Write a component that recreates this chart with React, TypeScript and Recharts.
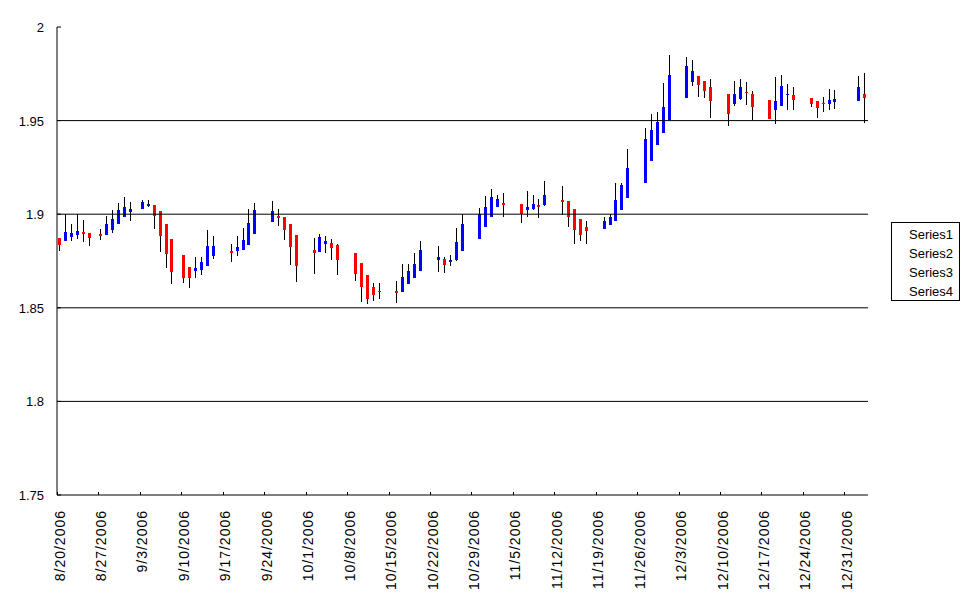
import { Bar, Cell, ComposedChart, ReferenceLine, XAxis, YAxis } from "recharts";

/* Excel-style high-low-open-close chart, Aug 2006 – Jan 2007.
   Thin black line = high/low, narrow body = open/close (blue up, red down). */

const BLUE = "#0000ff";
const RED = "#ff0000";
const FONT = "'Liberation Sans', Arial, sans-serif";

const W = 971;
const H = 605;
const PLOT_LEFT = 57;
const PLOT_RIGHT = 868;

const START_UTC = Date.UTC(2006, 7, 20);
const DAY_COUNT = 137;

const SERIES = ["Series1", "Series2", "Series3", "Series4"];
const Y_TICKS = [1.75, 1.8, 1.85, 1.9, 1.95, 2];
const GRID_VALUES = [1.8, 1.85, 1.9, 1.95];

const TRADE_DATES = [
  "8/20/2006", "8/21/2006", "8/22/2006", "8/23/2006", "8/24/2006", "8/25/2006",
  "8/27/2006", "8/28/2006", "8/29/2006", "8/30/2006", "8/31/2006", "9/1/2006",
  "9/3/2006", "9/4/2006", "9/5/2006", "9/6/2006", "9/7/2006", "9/8/2006",
  "9/10/2006", "9/11/2006", "9/12/2006", "9/13/2006", "9/14/2006", "9/15/2006",
  "9/18/2006", "9/19/2006", "9/20/2006", "9/21/2006", "9/22/2006",
  "9/25/2006", "9/26/2006", "9/27/2006", "9/28/2006", "9/29/2006",
  "10/2/2006", "10/3/2006", "10/4/2006", "10/5/2006", "10/6/2006",
  "10/9/2006", "10/10/2006", "10/11/2006", "10/12/2006", "10/13/2006",
  "10/16/2006", "10/17/2006", "10/18/2006", "10/19/2006", "10/20/2006",
  "10/23/2006", "10/24/2006", "10/25/2006", "10/26/2006", "10/27/2006",
  "10/30/2006", "10/31/2006", "11/1/2006", "11/2/2006", "11/3/2006",
  "11/6/2006", "11/7/2006", "11/8/2006", "11/9/2006", "11/10/2006",
  "11/13/2006", "11/14/2006", "11/15/2006", "11/16/2006", "11/17/2006",
  "11/20/2006", "11/21/2006", "11/22/2006", "11/23/2006", "11/24/2006",
  "11/27/2006", "11/28/2006", "11/29/2006", "11/30/2006", "12/1/2006",
  "12/4/2006", "12/5/2006", "12/6/2006", "12/7/2006", "12/8/2006",
  "12/11/2006", "12/12/2006", "12/13/2006", "12/14/2006", "12/15/2006",
  "12/18/2006", "12/19/2006", "12/20/2006", "12/21/2006", "12/22/2006",
  "12/25/2006", "12/26/2006", "12/27/2006", "12/28/2006", "12/29/2006",
  "1/2/2007", "1/3/2007",
];

const OPEN = [
  1.8875, 1.8858, 1.8881, 1.889, 1.8906, 1.89,
  1.8895, 1.889, 1.8916, 1.8948, 1.8986, 1.9014,
  1.9025, 1.9045, 1.9048, 1.9018, 1.8947, 1.8868,
  1.8783, 1.8719, 1.8694, 1.8704, 1.8726, 1.8779,
  1.8806, 1.8801, 1.8811, 1.8838, 1.8897,
  1.8961, 1.8991, 1.8986, 1.8948, 1.889,
  1.8809, 1.8801, 1.8843, 1.8847, 1.8836,
  1.8793, 1.874, 1.8676, 1.8612, 1.8591,
  1.8592, 1.8587, 1.863, 1.8662, 1.8699,
  1.8756, 1.8761, 1.8745, 1.8751, 1.8801,
  1.8868, 1.8932, 1.8986, 1.9039, 1.9059,
  1.9053, 1.9021, 1.9027, 1.9048, 1.9045,
  1.9075, 1.9069, 1.9027, 1.8973, 1.8931,
  1.8922, 1.8943, 1.8964, 1.9023, 1.9087,
  1.9167, 1.9283, 1.9368, 1.9432, 1.95,
  1.9621, 1.9707, 1.9737, 1.971, 1.9682,
  1.9644, 1.9593, 1.9618, 1.9653, 1.9644,
  1.9612, 1.9561, 1.9582, 1.9634, 1.9639,
  1.9623, 1.9607, 1.9593, 1.9587, 1.9596,
  1.9607, 1.9644,
];

const HIGH = [
  1.8875, 1.9, 1.895, 1.9, 1.897, 1.89,
  1.8922, 1.8989, 1.9023, 1.9059, 1.9093, 1.9064,
  1.9075, 1.9077, 1.9048, 1.9018, 1.8947, 1.8868,
  1.8783, 1.8719, 1.8774, 1.8774, 1.8916, 1.8881,
  1.884, 1.8884, 1.8927, 1.9028, 1.9059,
  1.9073, 1.9028, 1.8986, 1.8948, 1.889,
  1.8875, 1.8893, 1.8884, 1.8868, 1.8842,
  1.8793, 1.874, 1.8676, 1.8633, 1.8633,
  1.8644, 1.8735, 1.8735, 1.8793, 1.8858,
  1.8831, 1.8769, 1.8783, 1.8925, 1.9,
  1.9035, 1.9096, 1.9134, 1.9101, 1.9112,
  1.9053, 1.9123, 1.9101, 1.908, 1.9176,
  1.915, 1.9069, 1.9027, 1.8973, 1.8963,
  1.8984, 1.9, 1.9166, 1.9166, 1.9347,
  1.9459, 1.9534, 1.9545, 1.9699, 1.9849,
  1.9838, 1.9822, 1.9737, 1.971, 1.9724,
  1.9644, 1.9714, 1.9724, 1.9708, 1.966,
  1.9612, 1.9735, 1.9746, 1.9698, 1.9682,
  1.9623, 1.9607, 1.9628, 1.9671, 1.9666,
  1.974, 1.9753,
];

const LOW = [
  1.8806, 1.8854, 1.8859, 1.8868, 1.8854, 1.8831,
  1.8863, 1.889, 1.8902, 1.8948, 1.8986, 1.8961,
  1.9025, 1.9037, 1.892, 1.8801, 1.8712, 1.863,
  1.8635, 1.8605, 1.8662, 1.868, 1.8726, 1.876,
  1.8742, 1.8779, 1.8811, 1.8838, 1.8897,
  1.8961, 1.8939, 1.8861, 1.8729, 1.864,
  1.8683, 1.8801, 1.8795, 1.8758, 1.8678,
  1.8646, 1.8533, 1.8523, 1.8539, 1.8546,
  1.8528, 1.8587, 1.863, 1.8662, 1.8699,
  1.8694, 1.8681, 1.8726, 1.8751, 1.8801,
  1.8868, 1.8932, 1.8986, 1.9039, 1.8986,
  1.8954, 1.8986, 1.9021, 1.898, 1.9045,
  1.8995, 1.8932, 1.8842, 1.8858, 1.8842,
  1.8922, 1.8943, 1.8964, 1.9023, 1.9087,
  1.9167, 1.9283, 1.9368, 1.9432, 1.95,
  1.9621, 1.9685, 1.9625, 1.9621, 1.9518,
  1.9475, 1.9582, 1.9612, 1.9587, 1.9507,
  1.951, 1.9486, 1.9582, 1.9561, 1.9561,
  1.9577, 1.9518, 1.955, 1.9561, 1.9566,
  1.9607, 1.9486,
];

const CLOSE = [
  1.8836, 1.8907, 1.8902, 1.8911, 1.8897, 1.8875,
  1.8886, 1.8948, 1.8977, 1.9023, 1.9039, 1.903,
  1.9064, 1.9055, 1.8988, 1.8886, 1.8788, 1.8694,
  1.8658, 1.8662, 1.8712, 1.8745, 1.8831, 1.8831,
  1.8795, 1.8825, 1.8863, 1.8955, 1.9023,
  1.9018, 1.8982, 1.8918, 1.8827, 1.8726,
  1.8795, 1.8879, 1.8858, 1.8822, 1.8758,
  1.8683, 1.8614, 1.8549, 1.8571, 1.8585,
  1.8582, 1.8667, 1.8697, 1.8735, 1.8809,
  1.8774, 1.8729, 1.8756, 1.8849, 1.8945,
  1.9, 1.9037, 1.9091, 1.908, 1.905,
  1.8998, 1.9037, 1.9053, 1.9037, 1.9101,
  1.9066, 1.8986, 1.8916, 1.889, 1.8911,
  1.8963, 1.8984, 1.9075, 1.9155, 1.9245,
  1.94, 1.9448, 1.9491, 1.9571, 1.9742,
  1.979, 1.9764, 1.9689, 1.9657, 1.9609,
  1.9539, 1.9644, 1.9682, 1.9646, 1.9577,
  1.9512, 1.9607, 1.9687, 1.9641, 1.9612,
  1.9593, 1.9571, 1.9587, 1.9609, 1.9614,
  1.9682, 1.9623,
];

const BAND = (PLOT_RIGHT - PLOT_LEFT) / DAY_COUNT;

function fmtDate(ms: number) {
  const d = new Date(ms);
  return `${d.getUTCMonth() + 1}/${d.getUTCDate()}/${d.getUTCFullYear()}`;
}

// one row per calendar day; days without trading stay empty
const rows = Array.from({ length: DAY_COUNT }, (_, i) => {
  const date = fmtDate(START_UTC + i * 86400000);
  const k = TRADE_DATES.indexOf(date);
  if (k < 0) return { date, range: null, body: null, up: true };
  const o = OPEN[k];
  const c = CLOSE[k];
  return {
    date,
    range: [LOW[k], HIGH[k]],
    body: [Math.min(o, c), Math.max(o, c)],
    up: c >= o,
  };
});

// pixel-snapped rect so the 1px wick and the body stay sharp
function CrispRect(props: any) {
  const { x, y, width, height, fill } = props;
  if (x == null || y == null || height == null || Number.isNaN(y)) return null;
  return (
    <rect
      x={Math.round(x)}
      y={Math.round(y)}
      width={width}
      height={Math.max(1, Math.round(height))}
      fill={fill}
      shapeRendering="crispEdges"
    />
  );
}

function DateTick(props: any) {
  const { x, y, payload } = props;
  const edge = Math.round(x - BAND / 2) + 0.5;
  return (
    <g>
      <line x1={edge} x2={edge} y1={y} y2={y - 3} stroke="#000" />
      <text
        x={0}
        y={0}
        transform={`translate(${x + 4.6},${y + 15}) rotate(-90)`}
        textAnchor="end"
        fontFamily={FONT}
        fontSize={14}
        letterSpacing={1}
        fill="#000"
      >
        {payload.value}
      </text>
    </g>
  );
}

function PriceTick(props: any) {
  const { x, y, payload } = props;
  return (
    <g>
      <text
        x={x + 1}
        y={y}
        dy={5}
        textAnchor="end"
        fontFamily={FONT}
        fontSize={13}
        fill="#000"
      >
        {String(payload.value)}
      </text>
      <line x1={x + 14} x2={x + 18} y1={y} y2={y} stroke="#000" />
    </g>
  );
}

function Legend() {
  return (
    <div
      style={{
        position: "absolute",
        left: 891,
        top: 222,
        width: 69,
        height: 79,
        boxSizing: "border-box",
        border: "1px solid #000",
        background: "#fff",
        paddingTop: 2,
        paddingLeft: 17,
        fontFamily: FONT,
        fontSize: 13,
        lineHeight: "19px",
      }}
    >
      {SERIES.map((s) => (
        <div key={s}>{s}</div>
      ))}
    </div>
  );
}

export default function App() {
  return (
    <div
      style={{
        position: "absolute",
        left: 0,
        top: 0,
        width: W,
        height: H,
        background: "#fff",
      }}
    >
      <ComposedChart
        width={W}
        height={H}
        data={rows}
        margin={{ top: 27, right: W - PLOT_RIGHT, bottom: 0, left: 0 }}
        barCategoryGap={0}
      >
        {GRID_VALUES.map((v) => (
          <ReferenceLine key={v} y={v} stroke="#000" strokeWidth={1} />
        ))}
        <XAxis
          dataKey="date"
          height={110}
          interval={6}
          tickSize={0}
          tickMargin={0}
          tick={<DateTick />}
          axisLine={{ stroke: "#000" }}
          tickLine={false}
        />
        <XAxis xAxisId="body" dataKey="date" hide />
        <YAxis
          width={PLOT_LEFT}
          domain={[1.75, 2]}
          ticks={Y_TICKS}
          tickSize={0}
          tickMargin={14}
          tick={<PriceTick />}
          axisLine={{ stroke: "#000" }}
          tickLine={false}
          allowDataOverflow
        />
        <Bar
          dataKey="range"
          barSize={1}
          fill="#000"
          shape={<CrispRect />}
          isAnimationActive={false}
        />
        <Bar
          dataKey="body"
          xAxisId="body"
          barSize={3}
          shape={<CrispRect />}
          isAnimationActive={false}
        >
          {rows.map((r) => (
            <Cell key={r.date} fill={r.up ? BLUE : RED} />
          ))}
        </Bar>
      </ComposedChart>
      <Legend />
    </div>
  );
}
